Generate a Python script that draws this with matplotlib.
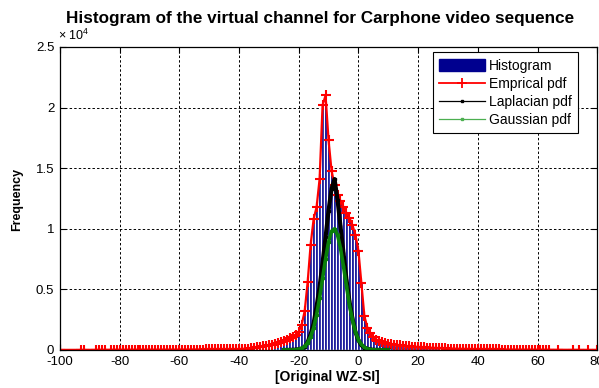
import matplotlib
matplotlib.use('Agg')
import matplotlib.pyplot as plt
from matplotlib.lines import Line2D
from matplotlib.patches import Patch
from matplotlib.ticker import FuncFormatter

plt.rcParams['font.family'] = ['Liberation Sans', 'DejaVu Sans']
plt.rcParams['mathtext.fontset'] = 'custom'
plt.rcParams['mathtext.rm'] = 'Liberation Sans'
plt.rcParams['axes.unicode_minus'] = False

# ---------------- data ----------------
emp_x = ([-100, -93, -92, -88, -87, -86, -85]
         + list(range(-83, 65))
         + [67, 72, 74, 77, 80])
emp_counts = (
    [8, 10, 10, 12, 10, 12, 14]
    # -83 .. -61
    + [14, 15, 15, 16, 16, 17, 17, 18, 18, 19, 19, 20, 20, 21, 22, 22, 23, 24, 25, 26, 27, 28, 29]
    # -60 .. -41
    + [30, 31, 32, 33, 34, 35, 36, 37, 38, 40, 41, 42, 44, 46, 48, 50, 52, 54, 56, 58]
    # -40 .. -31
    + [60, 80, 100, 120, 150, 190, 230, 270, 310, 350]
    # -30 .. -21
    + [400, 450, 500, 580, 660, 750, 850, 950, 1100, 1250]
    # -20 .. -11
    + [1500, 2100, 3200, 5600, 8700, 10800, 11800, 14100, 20200, 21000]
    # -10 .. -1
    + [17300, 14800, 13600, 12800, 12300, 11800, 11300, 10900, 10300, 9500]
    # 0 .. 9
    + [8200, 5500, 2800, 1850, 1400, 1100, 850, 750, 650, 580]
    # 10 .. 19
    + [520, 470, 430, 400, 370, 340, 320, 300, 280, 260]
    # 20 .. 29
    + [240, 225, 210, 195, 180, 170, 160, 150, 140, 130]
    # 30 .. 39
    + [120, 110, 100, 95, 90, 85, 80, 75, 70, 65]
    # 40 .. 49
    + [60, 56, 52, 50, 48, 45, 42, 40, 38, 36]
    # 50 .. 64
    + [34, 32, 30, 29, 28, 26, 25, 24, 22, 21, 20, 19, 18, 17, 16]
    + [14, 12, 12, 10, 8]
)

fit_x = list(range(-25, 11))
laplace_counts = [2, 4, 8, 15, 30, 60, 110, 250, 650, 1300, 2200, 3600, 5200, 7200,
                  9300, 11500, 13300, 14100, 12400, 10200, 8000, 5800, 4000, 2600,
                  1500, 800, 400, 200, 90, 40, 20, 10, 5, 2, 1, 0]
gauss_counts = [0, 0, 1, 5, 20, 60, 140, 300, 600, 1100, 1800, 2900, 4300, 5900,
                7500, 8900, 9800, 10000, 9500, 8400, 6900, 5300, 3700, 2500,
                1500, 860, 460, 220, 100, 40, 15, 5, 1, 0, 0, 0]

x_ticks = [-100, -80, -60, -40, -20, 0, 20, 40, 60, 80]
y_ticks = [0, 5000, 10000, 15000, 20000, 25000]
legend_labels = ['Histogram', 'Emprical pdf', 'Laplacian pdf', 'Gaussian pdf']

# ---------------- figure ----------------
fig = plt.figure(figsize=(5.99, 3.88), dpi=100)
ax = fig.add_axes([0.100, 0.098, 0.897, 0.781])

bar_x = [x for x in emp_x if -40 <= x <= 30]
bar_h = [c for x, c in zip(emp_x, emp_counts) if -40 <= x <= 30]
ax.bar(bar_x, bar_h, width=1.0, color='#00008f', edgecolor='white',
       linewidth=0.9, zorder=2)

ax.plot(emp_x, emp_counts, color='red', linewidth=1.6, marker='+',
        markersize=7, markeredgewidth=1.5, zorder=3)
ax.plot(fit_x, laplace_counts, color='black', linewidth=3.0, marker='s',
        markersize=2, zorder=4)
ax.plot(fit_x, gauss_counts, color='#0a800a', linewidth=2.6, marker='s',
        markersize=2, zorder=5)

ax.set_xlim(-100, 80)
ax.set_ylim(0, 25000)
ax.set_xticks(x_ticks)
ax.set_yticks(y_ticks)
ax.yaxis.set_major_formatter(FuncFormatter(lambda v, p: f'{v/1e4:g}'))
ax.tick_params(direction='in', length=4, width=0.8, labelsize=9.5, pad=4,
               top=True, right=True)
ax.grid(True, color='black', linestyle=(0, (2.5, 2.2)), linewidth=0.7)
ax.set_axisbelow(True)
for s in ax.spines.values():
    s.set_linewidth(0.9)
    s.set_zorder(6)

handles = [
    Patch(facecolor='#00008f', edgecolor='#00008f'),
    Line2D([], [], color='red', linewidth=1.3, marker='+', markersize=7,
           markeredgewidth=1.3),
    Line2D([], [], color='black', linewidth=0.9, marker='s', markersize=2),
    Line2D([], [], color='#4caf50', linewidth=0.9, marker='s', markersize=2),
]
leg = ax.legend(handles, legend_labels, loc='upper right',
                bbox_to_anchor=(0.965, 0.982), fontsize=10, frameon=True,
                fancybox=False, framealpha=1, edgecolor='black',
                handlelength=3.3, handleheight=0.9, handletextpad=0.3,
                labelspacing=0.3, borderpad=0.45, borderaxespad=0.0)
leg.get_frame().set_linewidth(0.8)
leg.set_zorder(10)

fig.text(0.534, 0.953, 'Histogram of the virtual channel for Carphone video sequence',
         ha='center', va='center', fontsize=12.3, fontweight='bold')
fig.text(0.097, 0.91, r'$\times$ 10$^{4}$', ha='left', va='center', fontsize=9)
fig.text(0.546, 0.028, '[Original WZ-SI]', ha='center', va='center',
         fontsize=10, fontweight='bold')
fig.text(0.029, 0.485, 'Frequency', ha='center', va='center', rotation=90,
         fontsize=9, fontweight='bold')

fig.savefig('out.png', dpi=100)
